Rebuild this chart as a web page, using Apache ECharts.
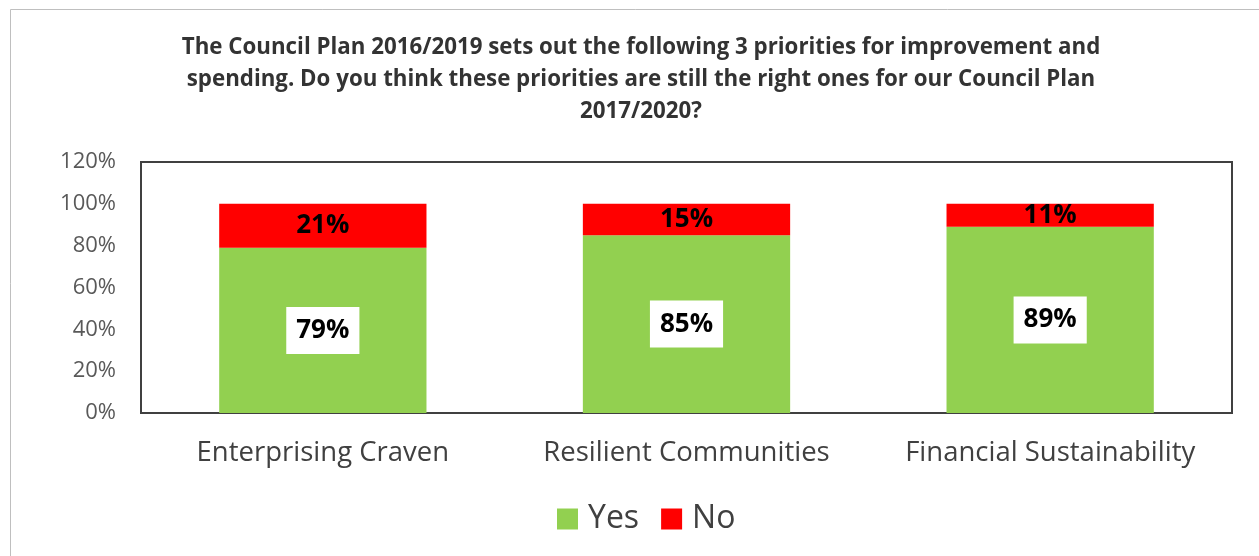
<!DOCTYPE html>
<html>
<head>
<meta charset="utf-8">
<script src="https://cdn.jsdelivr.net/npm/echarts@6/dist/echarts.min.js"></script>
<style>html,body{margin:0;padding:0;background:#fff}#c{width:1259px;height:556px}</style>
</head>
<body>
<div id="c"></div>
<script>
const categories = ['Enterprising Craven', 'Resilient Communities', 'Financial Sustainability'];
const yesValues = [79, 85, 89];
const noValues = [21, 15, 11];
const titleText = 'The Council Plan 2016/2019 sets out the following 3 priorities for improvement and\nspending. Do you think these priorities are still the right ones for our Council Plan\n2017/2020?';

const FONT = '"Open Sans", "Noto Sans", sans-serif';
const chart = echarts.init(document.getElementById('c'));
chart.setOption({
  backgroundColor: '#ffffff',
  animation: false,
  textStyle: { fontFamily: FONT },
  graphic: [{
    type: 'rect', left: 8, top: 7, silent: true,
    shape: { width: 1400, height: 700 },
    style: { fill: 'none', stroke: '#bfbfbf', lineWidth: 1 }
  }, {
    type: 'text', x: 641, y: 32, silent: true,
    style: {
      text: titleText, align: 'center', textAlign: 'center', verticalAlign: 'top',
      fontFamily: FONT, fontSize: 22.3, fontWeight: 'bold', fill: '#333333', lineHeight: 32
    }
  }],
  legend: {
    bottom: 16, left: 552,
    itemWidth: 21, itemHeight: 21, itemGap: 22,
    icon: 'rect',
    textStyle: { fontFamily: FONT, fontSize: 32, color: '#404040', padding: [0, 0, 0, 5] },
    data: ['Yes', 'No']
  },
  grid: { left: 141, top: 162, right: 27, bottom: 143, show: true, borderColor: '#404040', borderWidth: 2, backgroundColor: 'transparent' },
  xAxis: {
    type: 'category', data: categories,
    axisLine: { show: false }, axisTick: { show: false },
    axisLabel: { interval: 0, hideOverlap: false, fontFamily: FONT, fontSize: 27.5, color: '#404040', margin: 26 }
  },
  yAxis: {
    type: 'value', min: 0, max: 120, interval: 20,
    axisLine: { show: false }, axisTick: { show: false }, splitLine: { show: false },
    axisLabel: { fontFamily: FONT, fontSize: 22, color: '#595959', margin: 25, formatter: '{value}%' }
  },
  series: [
    {
      name: 'Yes', type: 'bar', stack: 'a', data: yesValues, barWidth: '57%',
      itemStyle: { color: '#92d050' },
      label: {
        show: true, position: 'inside', formatter: '{c}%',
        fontFamily: FONT, fontSize: 26, fontWeight: 'bold', color: '#000',
        backgroundColor: '#fff', padding: [11, 10, 10, 10]
      }
    },
    {
      name: 'No', type: 'bar', stack: 'a', data: noValues,
      itemStyle: { color: '#ff0000' },
      label: {
        show: true, position: 'inside', formatter: '{c}%',
        fontFamily: FONT, fontSize: 26, fontWeight: 'bold', color: '#000'
      }
    }
  ]
});
</script>
</body>
</html>
